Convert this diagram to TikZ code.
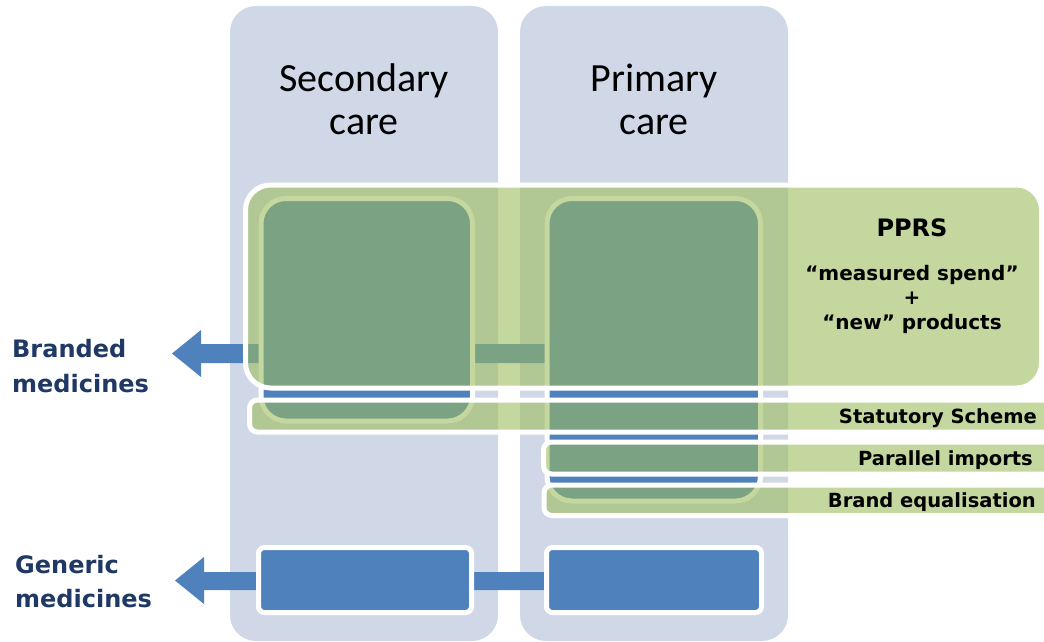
\documentclass[tikz,border=0pt]{standalone}
\usepackage{fontspec}
\setmainfont{Carlito}
\newfontfamily\vfont{DejaVu Sans}
\definecolor{colbg}{HTML}{D0D8E8}
\definecolor{mblue}{HTML}{4F81BD}
\definecolor{mgreen}{HTML}{9BBB59}
\definecolor{lblc}{HTML}{1F3864}
\tikzset{
  column/.style={fill=colbg, draw=none, rounded corners=26pt},
  bluebox/.style={fill=mblue, draw=white, line width=5pt},
  greenbox/.style={fill=mgreen, fill opacity=0.585, draw=white, draw opacity=1, line width=5pt},
  arrowshape/.style={fill=mblue, draw=none},
  sidelbl/.style={inner sep=0pt, font=\vfont\bfseries\fontsize{24}{28}\selectfont, text=lblc},
  headlbl/.style={inner sep=0pt, font=\fontsize{40}{44}\selectfont, text=black},
  boxlbl/.style={inner sep=0pt, font=\vfont\bfseries\fontsize{19.5}{23}\selectfont, text=black},
}
\begin{document}
\begin{tikzpicture}[x=1pt, y=-1pt]
\useasboundingbox (0,0) rectangle (1044,642);
\clip (0,0) rectangle (1044,642);
\fill[white] (0,0) rectangle (1044,642);
% columns
\path[column] (230,6) rectangle (498,641);
\path[column] (520,6) rectangle (788,641);
\node[headlbl, anchor=base] (sc1) at (364,92) {Secondary};
\node[headlbl, anchor=base] (sc2) at (364,134) {care};
\node[headlbl, anchor=base] (pc1) at (654,92) {Primary};
\node[headlbl, anchor=base] (pc2) at (654,134) {care};
% arrows
\path[arrowshape] (549,344) -- (201,344) -- (201,330) -- (172,353.5) -- (201,377) -- (201,363) -- (549,363) -- cycle;
\path[arrowshape] (550,572) -- (204,572) -- (204,557) -- (175,580.5) -- (204,604) -- (204,590) -- (550,590) -- cycle;
% branded boxes
\draw[bluebox, rounded corners=25pt] (261,198.5) rectangle (472.5,421);
\draw[bluebox, rounded corners=25pt] (547,198.5) rectangle (760.5,501);
% generic boxes
\draw[bluebox, rounded corners=6pt] (258.5,547.5) rectangle (471.5,612.5);
\draw[bluebox, rounded corners=6pt] (546.5,547.5) rectangle (761.5,612.5);
% green overlays
\draw[greenbox, rounded corners=25pt] (245.5,185) rectangle (1041.5,388);
\draw[greenbox, rounded corners=8pt] (249.5,400) rectangle (1070,432);
\draw[greenbox, rounded corners=8pt] (543.5,442) rectangle (1070,474);
\draw[greenbox, rounded corners=8pt] (544,485) rectangle (1070,515.5);
% labels
\node[sidelbl, anchor=base west] (bm1) at (12,357) {Branded};
\node[sidelbl, anchor=base west] (bm2) at (12,392) {medicines};
\node[sidelbl, anchor=base west] (gm1) at (15,573) {Generic};
\node[sidelbl, anchor=base west] (gm2) at (15,607) {medicines};
\node[inner sep=0pt, font=\vfont\bfseries\fontsize{24}{28}\selectfont, anchor=base] (pprs) at (912,236) {PPRS};
\node[inner sep=0pt, font=\vfont\bfseries\fontsize{20}{24}\selectfont, anchor=base] (ms) at (912,280) {“measured spend”};
\node[inner sep=0pt, font=\vfont\bfseries\fontsize{20}{24}\selectfont, anchor=base] (pl) at (912,304) {+};
\node[inner sep=0pt, font=\vfont\bfseries\fontsize{20}{24}\selectfont, anchor=base] (np) at (912,329) {“new” products};
\node[boxlbl, anchor=base east] (ss) at (1037,423) {Statutory Scheme};
\node[boxlbl, anchor=base east] (pi) at (1033,465) {Parallel imports};
\node[boxlbl, anchor=base east] (be) at (1036,507) {Brand equalisation};
\end{tikzpicture}
\end{document}
